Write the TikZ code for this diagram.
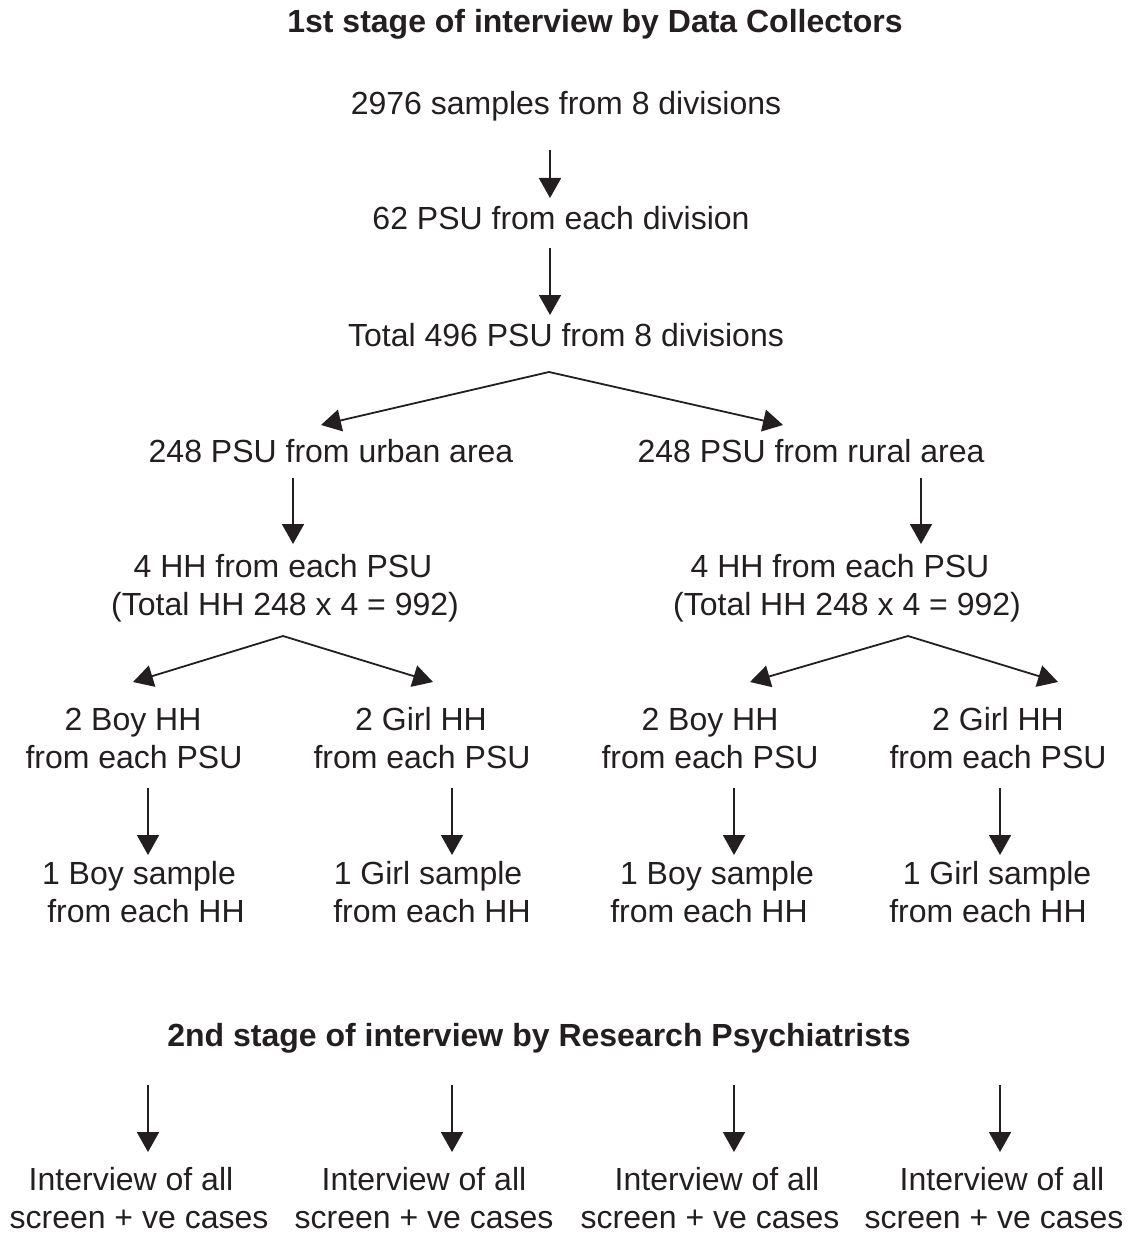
\documentclass[tikz,border=0pt]{standalone}
\usepackage{fontspec}
\setmainfont{Liberation Sans}
\usetikzlibrary{arrows.meta}
\definecolor{ink}{HTML}{231F20}
\tikzset{
  txt/.style={anchor=base, inner sep=0pt, text=ink, font=\fontsize{32}{38}\selectfont},
  ttl/.style={anchor=base, inner sep=0pt, text=ink, font=\fontsize{32}{38}\selectfont\bfseries},
  arr/.style={draw=ink, line width=1.8pt, -{Triangle[width=22pt,length=20pt]}},
  fork/.style={draw=ink, line width=1.8pt, line join=miter, {Triangle[width=22pt,length=20pt]}-{Triangle[width=22pt,length=20pt]}}
}
\begin{document}
\begin{tikzpicture}[x=1pt,y=-1pt]
\useasboundingbox (0,0) rectangle (1133,1233);
% titles
\node[ttl] (t1) at (595,33) {1st stage of interview by Data Collectors};
\node[ttl] (t2) at (539,1046) {2nd stage of interview by Research Psychiatrists};
% main chain
\node[txt] (n1) at (566,115) {2976 samples from 8 divisions};
\node[txt] (n2) at (561,230) {62 PSU from each division};
\node[txt] (n3) at (566,346) {Total 496 PSU from 8 divisions};
\node[txt] (u) at (331,462) {248 PSU from urban area};
\node[txt] (r) at (811,462) {248 PSU from rural area};
\node[txt] (uh1) at (283,577) {4 HH from each PSU};
\node[txt] (uh2) at (285,615) {(Total HH 248 x 4 = 992)};
\node[txt] (rh1) at (840,577) {4 HH from each PSU};
\node[txt] (rh2) at (847,615) {(Total HH 248 x 4 = 992)};
% HH level
\node[txt] (b1a) at (133,730) {2 Boy HH};
\node[txt] (b1b) at (134,768) {from each PSU};
\node[txt] (g1a) at (421,730) {2 Girl HH};
\node[txt] (g1b) at (422,768) {from each PSU};
\node[txt] (b2a) at (710,730) {2 Boy HH};
\node[txt] (b2b) at (710,768) {from each PSU};
\node[txt] (g2a) at (998,730) {2 Girl HH};
\node[txt] (g2b) at (998,768) {from each PSU};
% sample level
\node[txt] (sb1a) at (139,884) {1 Boy sample};
\node[txt] (sb1b) at (146,922) {from each HH};
\node[txt] (sg1a) at (428,884) {1 Girl sample};
\node[txt] (sg1b) at (432,922) {from each HH};
\node[txt] (sb2a) at (717,884) {1 Boy sample};
\node[txt] (sb2b) at (709,922) {from each HH};
\node[txt] (sg2a) at (997,884) {1 Girl sample};
\node[txt] (sg2b) at (988,922) {from each HH};
% interviews
\node[txt] (i1a) at (131,1190) {Interview of all};
\node[txt] (i1b) at (139,1228) {screen + ve cases};
\node[txt] (i2a) at (424,1190) {Interview of all};
\node[txt] (i2b) at (424,1228) {screen + ve cases};
\node[txt] (i3a) at (717,1190) {Interview of all};
\node[txt] (i3b) at (710,1228) {screen + ve cases};
\node[txt] (i4a) at (1002,1190) {Interview of all};
\node[txt] (i4b) at (994,1228) {screen + ve cases};
% connector end points
\coordinate (a1s) at (550,150); \coordinate (a1e) at (550,198);
\coordinate (a2s) at (550,248); \coordinate (a2e) at (550,315);
\coordinate (p0) at (549,372); \coordinate (p0l) at (321,425); \coordinate (p0r) at (783,425);
\coordinate (a3s) at (293,478); \coordinate (a3e) at (293,544);
\coordinate (a4s) at (921,478); \coordinate (a4e) at (921,544);
\coordinate (p1) at (283,636); \coordinate (p1l) at (133,682); \coordinate (p1r) at (433,682);
\coordinate (p2) at (908,636); \coordinate (p2l) at (750,682); \coordinate (p2r) at (1058,682);
\foreach \k/\xx in {1/148,2/452,3/734,4/1000}{
  \coordinate (c\k s) at (\xx,788); \coordinate (c\k e) at (\xx,855);
  \coordinate (d\k s) at (\xx,1085); \coordinate (d\k e) at (\xx,1152);
}
% connectors
\draw[arr] (a1s) -- (a1e);
\draw[arr] (a2s) -- (a2e);
\draw[fork] (p0l) -- (p0) -- (p0r);
\draw[arr] (a3s) -- (a3e);
\draw[arr] (a4s) -- (a4e);
\draw[fork] (p1l) -- (p1) -- (p1r);
\draw[fork] (p2l) -- (p2) -- (p2r);
\foreach \k in {1,2,3,4}{
  \draw[arr] (c\k s) -- (c\k e);
  \draw[arr] (d\k s) -- (d\k e);
}
\end{tikzpicture}
\end{document}
